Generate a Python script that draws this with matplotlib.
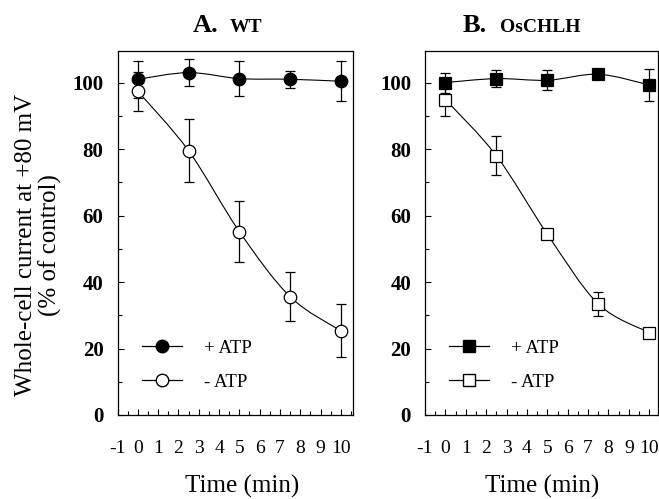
import matplotlib
matplotlib.use("Agg")
import matplotlib.pyplot as plt
from matplotlib.path import Path
from matplotlib.patches import PathPatch
from matplotlib.lines import Line2D
from matplotlib.ticker import MultipleLocator

plt.rcParams['font.family'] = ['Liberation Serif', 'DejaVu Serif']

# data (time in min, current in % of control)
time_min = [0, 2.5, 5, 7.5, 10]

wt_plus = [101.0, 103.0, 101.2, 101.0, 100.4]
wt_plus_err = [5.5, 4.0, 5.3, 2.5, 6.0]
wt_minus = [97.4, 79.5, 55.2, 35.6, 25.3]
wt_minus_err = [5.8, 9.5, 9.3, 7.3, 8.0]

osc_plus = [100.0, 101.2, 100.7, 102.5, 99.3]
osc_plus_err = [3.0, 2.5, 3.0, 1.5, 4.7]
osc_minus = [94.9, 78.0, 54.4, 33.4, 24.8]
osc_minus_err = [5.0, 5.8, 1.5, 3.5, 1.0]

x_ticks = list(range(-1, 11))
y_ticks = [0, 20, 40, 60, 80, 100]

W, H = 659, 499


def smooth_path(x, y):
    # Catmull-Rom curve through the points, drawn as cubic bezier segments
    pts = list(zip(x, y))
    verts = [pts[0]]
    codes = [Path.MOVETO]
    n = len(pts)
    for i in range(n - 1):
        p0 = pts[max(i - 1, 0)]
        p1 = pts[i]
        p2 = pts[i + 1]
        p3 = pts[min(i + 2, n - 1)]
        c1 = (p1[0] + (p2[0] - p0[0]) / 6.0, p1[1] + (p2[1] - p0[1]) / 6.0)
        c2 = (p2[0] - (p3[0] - p1[0]) / 6.0, p2[1] - (p3[1] - p1[1]) / 6.0)
        verts += [c1, c2, p2]
        codes += [Path.CURVE4] * 3
    return Path(verts, codes)


def draw_panel(ax, plus, plus_err, minus, minus_err, marker, xmax):
    for y, e, face in [(plus, plus_err, 'black'), (minus, minus_err, 'white')]:
        ax.add_patch(PathPatch(smooth_path(time_min, y), fill=False,
                               edgecolor='black', lw=0.8, zorder=2))
        ax.errorbar(time_min, y, yerr=e, fmt='none', ecolor='black',
                    elinewidth=0.9, capsize=3.5, capthick=0.9, zorder=3)
        ax.plot(time_min, y, linestyle='none', marker=marker, markersize=9,
                markerfacecolor=face, markeredgecolor='black',
                markeredgewidth=0.9, zorder=4)

    ax.set_xlim(-1, xmax)
    ax.set_ylim(0, 109.5)
    ax.set_xticks(x_ticks)
    ax.set_xticklabels([str(v) for v in x_ticks], fontsize=14)
    ax.xaxis.set_minor_locator(MultipleLocator(0.5))
    ax.set_yticks(y_ticks)
    ax.set_yticklabels([str(v) for v in y_ticks], fontsize=15, fontweight='bold')
    ax.yaxis.set_minor_locator(MultipleLocator(10))
    ax.tick_params(axis='both', which='both', direction='in', width=0.8)
    ax.tick_params(axis='both', which='major', length=4)
    ax.tick_params(axis='both', which='minor', length=3)
    ax.tick_params(axis='x', which='major', pad=18)
    ax.tick_params(axis='y', which='major', pad=10)
    for s in ax.spines.values():
        s.set_linewidth(0.9)

    handles = [
        Line2D([], [], color='black', lw=0.9, marker=marker, markersize=9,
               markerfacecolor='black', markeredgecolor='black'),
        Line2D([], [], color='black', lw=0.9, marker=marker, markersize=9,
               markerfacecolor='white', markeredgecolor='black'),
    ]
    ax.legend(handles, ['+ ATP', '- ATP'], loc='center left',
              bbox_to_anchor=(0.105, 0.136), frameon=False, fontsize=13.5,
              handlelength=2.1, handletextpad=1.2, labelspacing=0.9,
              borderpad=0, borderaxespad=0)


fig = plt.figure(figsize=(W / 100, H / 100), dpi=100)

axA = fig.add_axes([117.5 / W, 1 - 415 / H, 235.5 / W, 364 / H])
draw_panel(axA, wt_plus, wt_plus_err, wt_minus, wt_minus_err, 'o', 10.6)
axA.set_ylabel('Whole-cell current at +80 mV\n(% of control)', fontsize=18,
               linespacing=1.1)
axA.yaxis.set_label_coords(-0.236, 0.467)
axA.set_xlabel('Time (min)', fontsize=18)
axA.xaxis.set_label_coords(0.529, -0.165)

axB = fig.add_axes([425 / W, 1 - 415 / H, 233 / W, 364 / H])
draw_panel(axB, osc_plus, osc_plus_err, osc_minus, osc_minus_err, 's', 10.43)
axB.set_xlabel('Time (min)', fontsize=18)
axB.xaxis.set_label_coords(0.504, -0.165)

# panel titles
ty = 1 - 32.5 / H
fig.text(193 / W, ty, 'A.', fontsize=19, fontweight='bold', va='baseline')
fig.text(230 / W, ty, 'WT', fontsize=14, fontweight='bold', va='baseline')
fig.text(463 / W, ty, 'B.', fontsize=19, fontweight='bold', va='baseline')
fig.text(500 / W, ty, 'OsCHLH', fontsize=14, fontweight='bold', va='baseline')

fig.savefig('out.png', dpi=100)
